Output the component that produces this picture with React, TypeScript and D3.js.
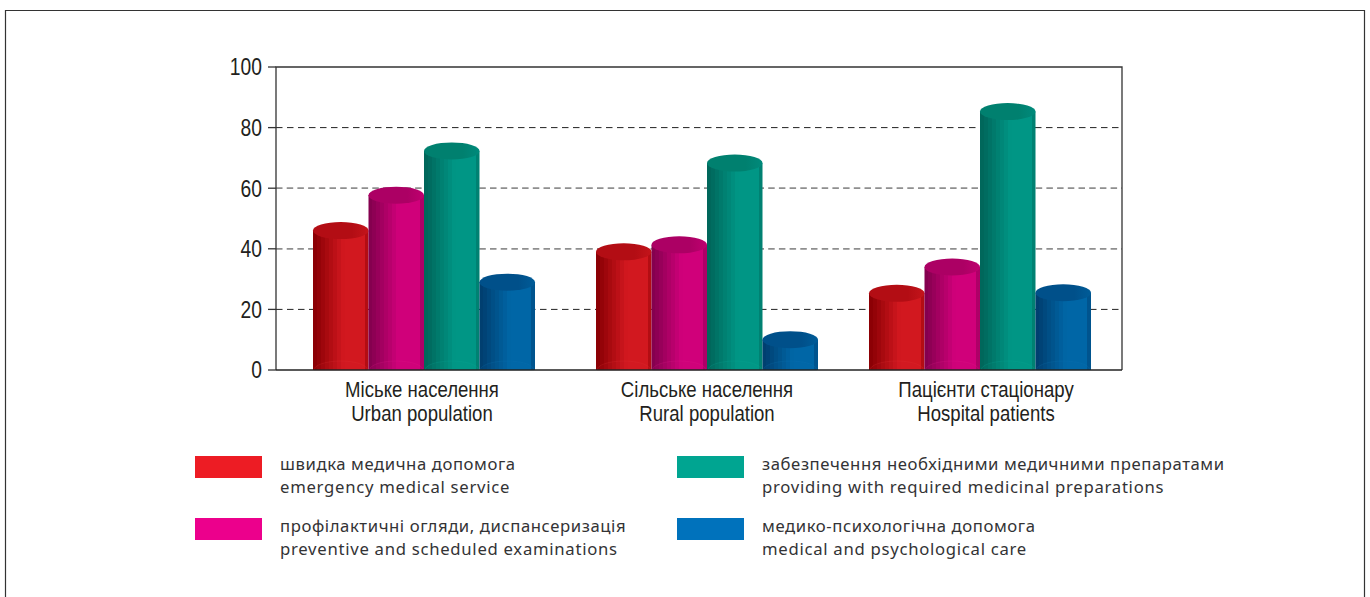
import React from "react";
import * as d3 from "d3";

const width = 1370;
const height = 597;

const categoriesUk = ["Міське населення", "Сільське населення", "Пацієнти стаціонару"];
const categoriesEn = ["Urban population", "Rural population", "Hospital patients"];
const seriesKeys = ["emergency", "preventive", "medicines", "psych"];
const emergency = [46, 39, 25.3];
const preventive = [57.7, 41.3, 34];
const medicines = [72.3, 68.3, 85.3];
const psych = [29, 10, 25.5];
const yTicks = [0, 20, 40, 60, 80, 100];
const thinDashedTicks = [20, 80];
const greyDashedTicks = [40, 60];
const legendUk = [
  "швидка медична допомога",
  "профілактичні огляди, диспансеризація",
  "забезпечення необхідними медичними препаратами",
  "медико-психологічна допомога",
];
const legendEn = [
  "emergency medical service",
  "preventive and scheduled examinations",
  "providing with required medicinal preparations",
  "medical and psychological care",
];
const legendColors = ["#ed1c24", "#ec008c", "#00a591", "#0072bc"];

const palettes = [
  { dark: "#8c0005", bright: "#d2181f", top: "#b30d14", topEdge: "#c4141b", base: "#e0383c" },
  { dark: "#85004f", bright: "#d0007a", top: "#ac0064", topEdge: "#bf006f", base: "#e0208c" },
  { dark: "#00675b", bright: "#009685", top: "#00806f", topEdge: "#008a7b", base: "#10ae9c" },
  { dark: "#003f70", bright: "#0066a6", top: "#00508a", topEdge: "#005c98", base: "#1578b8" },
];
const allValues = [emergency, preventive, medicines, psych];

const plot = { left: 276, right: 1122, top: 67, bottom: 370 };
const y = d3.scaleLinear().domain([0, 100]).range([plot.bottom, plot.top]);
const groupX = d3.scaleOrdinal<string, number>().domain(categoriesUk).range([424, 707, 980]);
const labelX = d3.scaleOrdinal<string, number>().domain(categoriesUk).range([422, 707, 986]);
const barWidth = 55.5;
const inner = d3.scaleBand<string>().domain(seriesKeys).range([-2 * barWidth, 2 * barWidth]);
const ry = 8.5;

const legendCols = [195, 677];
const legendRows = [456, 518];

const NARROW = "'Liberation Sans', Arial, sans-serif";

// Stepped shading across a cylinder: dark on the left, bright by the middle, a thin dark rim on the right.
const bandCount = 14;
function bandStops(dark: string, bright: string) {
  const mix = d3.interpolateRgb(dark, bright);
  const stops: { offset: number; color: string }[] = [];
  d3.range(bandCount).forEach((b) => {
    const c = (b + 0.5) / bandCount;
    const t = c < 0.55 ? Math.min(1, Math.max(0, (c - 0.05) / 0.5)) : c > 0.94 ? 0.55 : 1;
    const color = mix(t);
    stops.push({ offset: b / bandCount, color });
    stops.push({ offset: (b + 1) / bandCount, color });
  });
  return stops;
}

export default function App() {
  return (
    <svg
      width={width}
      height={height}
      style={{ position: "absolute", left: 0, top: 0, background: "#fff" }}
    >
      <defs>
        {palettes.map((p, i) => (
          <linearGradient key={i} id={`body${i}`} x1="0" x2="1" y1="0" y2="0">
            {bandStops(p.dark, p.bright).map((s, j) => (
              <stop key={j} offset={s.offset} stopColor={s.color} />
            ))}
          </linearGradient>
        ))}
        {palettes.map((p, i) => (
          <linearGradient key={i} id={`cap${i}`} x1="0" x2="1" y1="0" y2="0">
            <stop offset="0" stopColor={p.top} />
            <stop offset="0.7" stopColor={p.top} />
            <stop offset="1" stopColor={p.topEdge} />
          </linearGradient>
        ))}
      </defs>

      <path d={`M5.5 ${height} V10.5 H1364.5 V${height}`} fill="none" stroke="#333" strokeWidth={1.2} />

      {thinDashedTicks.map((t) => (
        <line key={t} x1={plot.left} x2={plot.right} y1={y(t)} y2={y(t)} stroke="#222" strokeWidth={1} strokeDasharray="6.5 4.5" />
      ))}
      {greyDashedTicks.map((t) => (
        <line key={t} x1={plot.left} x2={plot.right} y1={y(t)} y2={y(t)} stroke="#8f8f8f" strokeWidth={1.8} strokeDasharray="6.5 4.2" />
      ))}
      <path
        d={`M${plot.left} ${plot.bottom} V${plot.top} H${plot.right} V${plot.bottom}`}
        fill="none"
        stroke="#333"
        strokeWidth={1.3}
      />
      {yTicks.map((t) => (
        <g key={t}>
          <line x1={268} x2={plot.left} y1={y(t)} y2={y(t)} stroke="#333" strokeWidth={1.3} />
          <text
            transform={`translate(262 ${y(t)}) scale(0.82 1)`}
            dy="0.36em"
            textAnchor="end"
            fontFamily={NARROW}
            fontSize={23.5}
            fill="#231f20"
          >
            {t}
          </text>
        </g>
      ))}

      {categoriesUk.map((c, ci) =>
        seriesKeys.map((k, si) => {
          const x0 = groupX(c) + (inner(k) as number);
          const w = inner.bandwidth();
          const top = y(allValues[si][ci]);
          const bot = plot.bottom;
          const rx = w / 2;
          const p = palettes[si];
          return (
            <g key={k + c}>
              <rect x={x0} y={top} width={w} height={bot - top} fill={`url(#body${si})`} />
              <path
                d={`M${x0 + 1} ${bot} A${rx - 1} 9 0 0 1 ${x0 + w - 1} ${bot} Z`}
                fill={p.base}
                fillOpacity={0.06}
                stroke={p.base}
                strokeOpacity={0.3}
                strokeWidth={0.7}
              />
              <ellipse cx={x0 + rx} cy={top} rx={rx} ry={ry} fill={`url(#cap${si})`} />
            </g>
          );
        })
      )}

      <line x1={plot.left} x2={plot.right} y1={plot.bottom} y2={plot.bottom} stroke="#222" strokeWidth={1.5} />

      {categoriesUk.map((c, i) => (
        <g key={c} fontFamily={NARROW} fontSize={21.5} fill="#231f20" textAnchor="middle">
          <text transform={`translate(${labelX(c)} 397) scale(0.865 1)`}>{c}</text>
          <text transform={`translate(${labelX(c)} 421) scale(0.865 1)`}>{categoriesEn[i]}</text>
        </g>
      ))}

      {legendUk.map((t, i) => {
        const col = legendCols[Math.floor(i / 2)];
        const row = legendRows[i % 2];
        return (
          <g key={t}>
            <rect x={col} y={row} width={67} height={22} fill={legendColors[i]} />
            <g fontFamily="'Noto Sans', sans-serif" fontSize={16.7} fill="#333335">
              <text x={col + 85} y={row + 14} letterSpacing={0.58}>{t}</text>
              <text x={col + 85} y={row + 37} letterSpacing={0.72}>{legendEn[i]}</text>
            </g>
          </g>
        );
      })}
    </svg>
  );
}
